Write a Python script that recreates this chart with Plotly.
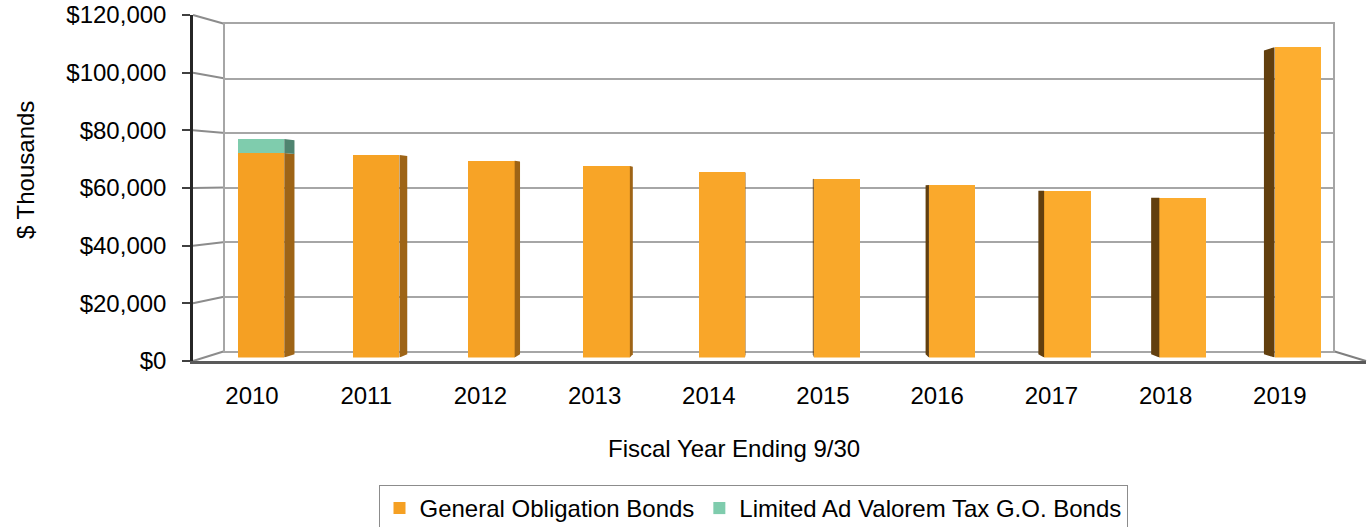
import plotly.graph_objects as go

# ---------------- data ----------------
years = ["2010", "2011", "2012", "2013", "2014", "2015", "2016", "2017", "2018", "2019"]
go_bonds = [72300, 71600, 69600, 67700, 65500, 63200, 61000, 59000, 56500, 109700]
lavt_bonds = [4950, 0, 0, 0, 0, 0, 0, 0, 0, 0]
y_ticks = [0, 20000, 40000, 60000, 80000, 100000, 120000]
y_tick_labels = ["$0", "$20,000", "$40,000", "$60,000", "$80,000", "$100,000", "$120,000"]
series_names = ["General Obligation Bonds", "Limited Ad Valorem Tax G.O. Bonds"]
x_title = "Fiscal Year Ending 9/30"
y_title = "$ Thousands"

# ---------------- layout geometry (screen pixels in a 1372x527 window) ----------------
W, H = 1372, 527
OFF = 0          # page margin removed by post_script below
YMAX = 120000
FONT = "Liberation Sans, Arial, sans-serif"
FS = 24

def px(x):
    return (x - OFF) / W

def py(y):
    return 1 - (y - OFF) / H

# front plane (axis), back wall, bar plane
front = dict(x0=193, x1=1366, y0=361, y1=15)
back = dict(x0=225, x1=1333, y0=351, y1=24)
bars_dom = dict(x0=203.4, x1=1355.4, y0=357.5, y1=18.1)

green = "#7FCCAD"
n = len(years)

def blend(c1, c2, t):
    a = [int(c1[i:i + 2], 16) for i in (1, 3, 5)]
    b = [int(c2[i:i + 2], 16) for i in (1, 3, 5)]
    return "#%02X%02X%02X" % tuple(int(round(a[k] + (b[k] - a[k]) * t)) for k in range(3))

front_colors = [blend("#F5A023", "#FDAE30", i / (n - 1)) for i in range(n)]

fig = go.Figure()

# back wall subplot (x / y) : gridlines
fig.add_trace(go.Scatter(x=[None], y=[None], xaxis="x", yaxis="y", showlegend=False, hoverinfo="skip"))
# front axis subplot (x2 / y2)
fig.add_trace(go.Scatter(x=[None], y=[None], xaxis="x2", yaxis="y2", showlegend=False, hoverinfo="skip"))
# bars subplot (x3 / y3)
fig.add_trace(go.Bar(x=years, y=go_bonds, name=series_names[0],
                     marker=dict(color=front_colors, line=dict(width=0)), xaxis="x3", yaxis="y3"))
fig.add_trace(go.Bar(x=years, y=lavt_bonds, name=series_names[1],
                     marker=dict(color=green, line=dict(width=0)), xaxis="x3", yaxis="y3"))

bar_w = 0.404
half = bar_w / 2
grid_col = "#A6A6A6"

fig.update_layout(
    width=W, height=H,
    margin=dict(l=0, r=0, t=0, b=0, autoexpand=False),
    paper_bgcolor="white",
    plot_bgcolor="rgba(0,0,0,0)",
    barmode="stack",
    bargap=1 - bar_w,
    font=dict(family=FONT, size=FS, color="#000000"),
    showlegend=True,
    legend=dict(orientation="h", x=px(753), xanchor="center", y=py(485), yanchor="top",
                bordercolor="#8C8C8C", borderwidth=1, font=dict(size=FS), traceorder="normal",
                itemclick=False, itemdoubleclick=False),
    xaxis=dict(domain=[px(back["x0"]), px(back["x1"])], range=[0, 1], showgrid=False, zeroline=False,
               showticklabels=False, showline=True, mirror=True, linecolor=grid_col, linewidth=2,
               fixedrange=True, anchor="y"),
    yaxis=dict(domain=[py(back["y0"]), py(back["y1"])], range=[0, YMAX], tickvals=y_ticks, showgrid=True,
               gridcolor=grid_col, gridwidth=2, zeroline=False, showticklabels=False, showline=True,
               mirror=True, linecolor=grid_col, linewidth=2, fixedrange=True, anchor="x"),
    xaxis2=dict(domain=[px(front["x0"]), px(front["x1"])], range=[-0.5166, 9.755], tickvals=list(range(n)),
                ticktext=years, showgrid=False, zeroline=False, showline=True, linecolor="#5A5A5A",
                linewidth=2.5, ticks="", ticklabelstandoff=11, tickfont=dict(size=FS), anchor="y2",
                fixedrange=True, ticklabeloverflow="allow"),
    yaxis2=dict(domain=[py(front["y0"]), py(front["y1"])], range=[0, YMAX], tickvals=y_ticks,
                ticktext=y_tick_labels, showgrid=False, zeroline=False, showline=True,
                linecolor="#262626", linewidth=2.5, ticks="outside", ticklen=8, tickwidth=2,
                tickcolor="#404040", ticklabelstandoff=11, tickfont=dict(size=FS), anchor="x2",
                fixedrange=True, ticklabeloverflow="allow"),
    xaxis3=dict(domain=[px(bars_dom["x0"]), px(bars_dom["x1"])], type="category", range=[-0.5, n - 0.5],
                visible=False, anchor="y3", fixedrange=True),
    yaxis3=dict(domain=[py(bars_dom["y0"]), py(bars_dom["y1"])], range=[0, YMAX], visible=False,
                anchor="x3", fixedrange=True),
)

# ---------- 3D decoration: connectors between front axis and back wall ----------
def y_front(v):
    return front["y0"] - v * (front["y0"] - front["y1"]) / YMAX

def y_back(v):
    return back["y0"] - v * (back["y0"] - back["y1"]) / YMAX

for v in y_ticks:
    fig.add_shape(type="line", xref="paper", yref="paper",
                  x0=px(front["x0"]), y0=py(y_front(v)), x1=px(back["x0"]), y1=py(y_back(v)),
                  line=dict(color="#8C8C8C", width=2), layer="below")
# floor right edge
fig.add_shape(type="line", xref="paper", yref="paper",
              x0=px(back["x1"]), y0=py(y_back(0)), x1=px(front["x1"]), y1=py(y_front(0)),
              line=dict(color="#7F7F7F", width=2), layer="below")

# ---------- bar side faces (perspective) ----------
depth = 0.021
px_per_cat = (bars_dom["x1"] - bars_dom["x0"]) / n
vx = (770 - (bars_dom["x0"] + px_per_cat / 2)) / px_per_cat      # vanishing point in category units
vy = (bars_dom["y0"] - 200) / (bars_dom["y0"] - bars_dom["y1"]) * YMAX  # vanishing height in data units

def side_face(i, ylo, yhi, color):
    xe = i + half if i < vx else i - half
    xb = xe + depth * (vx - xe)
    ylo_b = ylo + depth * (vy - ylo)
    yhi_b = yhi + depth * (vy - yhi)
    path = f"M {xe},{ylo} L {xe},{yhi} L {xb},{yhi_b} L {xb},{ylo_b} Z"
    fig.add_shape(type="path", path=path, xref="x3", yref="y3", fillcolor=color,
                  line=dict(width=0), layer="above")

for i in range(n):
    right_side = i < vx
    oc = "#9E6416" if right_side else "#623F0E"
    gc = "#4F8470" if right_side else "#3E6A59"
    side_face(i, 0, go_bonds[i], oc)
    if lavt_bonds[i]:
        side_face(i, go_bonds[i], go_bonds[i] + lavt_bonds[i], gc)

# ---------- axis titles ----------
fig.add_annotation(text=y_title, xref="paper", yref="paper", x=px(26), y=py(170), showarrow=False,
                   textangle=-90, font=dict(size=FS, family=FONT), xanchor="center", yanchor="middle")
fig.add_annotation(text=x_title, xref="paper", yref="paper", x=px(734), y=py(448), showarrow=False,
                   font=dict(size=FS, family=FONT), xanchor="center", yanchor="middle")

fig.write_html("out.html",
               config={"displayModeBar": False},
               post_script="document.body.style.margin='0';document.body.style.overflow='hidden';")
